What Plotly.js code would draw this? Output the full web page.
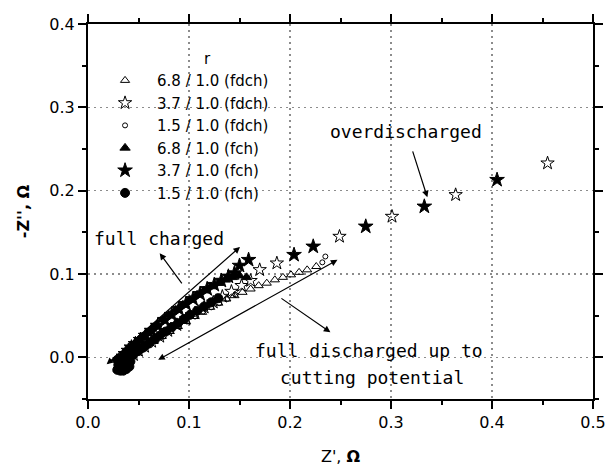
<!DOCTYPE html>
<html>
<head>
<meta charset="utf-8">
<script src="https://cdn.plot.ly/plotly-3.0.1.min.js"></script>
<style>
  html, body { margin: 0; padding: 0; background: #fff; }
  #chart { width: 612px; height: 466px; }
</style>
</head>
<body>
<div id="chart"></div>
<script>
// Nyquist impedance data (Z' vs -Z'', ohm) for three r ratios,
// measured at full discharge (fdch) and full charge (fch).
const seriesNames = [
  "6.8 / 1.0 (fdch)", "3.7 / 1.0 (fdch)", "1.5 / 1.0 (fdch)",
  "6.8 / 1.0 (fch)", "3.7 / 1.0 (fch)", "1.5 / 1.0 (fch)"
];

// 6.8 / 1.0 (fdch) - open triangles
const tri68FdchX = [0.036,0.038,0.040,0.043,0.047,0.052,0.058,0.065,0.073,0.081,0.089,0.097,0.105,0.113,0.121,0.129,0.137,0.145,0.153,0.161,0.169,0.177,0.185,0.193,0.201,0.209,0.217,0.226];
const tri68FdchY = [-0.008,-0.005,-0.002,0.001,0.005,0.009,0.014,0.019,0.025,0.031,0.037,0.043,0.049,0.054,0.060,0.065,0.070,0.074,0.078,0.082,0.086,0.089,0.093,0.096,0.099,0.102,0.105,0.109];

// 3.7 / 1.0 (fdch) - open stars
const star37FdchX = [0.035,0.038,0.041,0.045,0.050,0.056,0.063,0.071,0.079,0.088,0.097,0.106,0.115,0.124,0.133,0.142,0.152,0.161,0.170,0.187,0.249,0.301,0.364,0.455];
const star37FdchY = [-0.009,-0.005,-0.001,0.003,0.008,0.013,0.019,0.025,0.032,0.039,0.046,0.053,0.060,0.066,0.073,0.079,0.086,0.092,0.105,0.113,0.145,0.169,0.195,0.233];

// 1.5 / 1.0 (fdch) - small open circles
const circ15FdchX = [0.034,0.036,0.039,0.042,0.046,0.051,0.056,0.062,0.068,0.075,0.082,0.090,0.098,0.106,0.114,0.122,0.130,0.138,0.146,0.232,0.235];
const circ15FdchY = [-0.011,-0.008,-0.005,-0.002,0.002,0.006,0.010,0.015,0.020,0.025,0.031,0.037,0.043,0.049,0.055,0.060,0.065,0.070,0.075,0.114,0.121];

// 6.8 / 1.0 (fch) - filled triangles
const tri68FchX = [0.030,0.031,0.032,0.033,0.034,0.035,0.036,0.038,0.040,0.042,0.044,0.047,0.050,0.054,0.058,0.063,0.068,0.074,0.080,0.087,0.094,0.101,0.108,0.115,0.122,0.129,0.136,0.143,0.150,0.157];
const tri68FchY = [-0.014,-0.011,-0.008,-0.005,-0.001,0.002,0.005,0.007,0.009,0.012,0.014,0.018,0.021,0.025,0.029,0.034,0.039,0.045,0.051,0.057,0.063,0.069,0.075,0.080,0.085,0.089,0.093,0.096,0.098,0.096];

// 3.7 / 1.0 (fch) - filled stars
const star37FchX = [0.031,0.033,0.035,0.037,0.040,0.043,0.047,0.052,0.057,0.063,0.069,0.076,0.083,0.090,0.097,0.104,0.111,0.118,0.125,0.132,0.139,0.145,0.150,0.159,0.204,0.223,0.275,0.333,0.405];
const star37FchY = [-0.006,-0.003,0.001,0.004,0.008,0.012,0.016,0.021,0.026,0.032,0.038,0.045,0.051,0.058,0.064,0.070,0.076,0.082,0.087,0.092,0.097,0.101,0.110,0.117,0.123,0.133,0.157,0.181,0.213];

// 1.5 / 1.0 (fch) - filled circles
const circ15FchX = [0.029,0.032,0.035,0.038,0.041,0.030,0.033,0.036,0.039,0.042,0.029,0.032,0.035,0.038,0.041,0.044,0.047,0.050,0.053,0.057,0.061,0.066,0.071,0.077,0.083,0.089,0.095,0.101,0.108,0.115,0.122,0.129];
const circ15FchY = [-0.015,-0.016,-0.016,-0.014,-0.011,-0.009,-0.010,-0.009,-0.007,-0.005,-0.003,-0.003,-0.002,0.000,0.002,0.004,0.006,0.008,0.011,0.014,0.018,0.022,0.026,0.031,0.036,0.041,0.046,0.051,0.056,0.061,0.066,0.071];

const xTickFormat = ".1f";
const yTickFormat = ".1f";

const BASE_FONT = "DejaVu Sans, Arial, sans-serif";
const NOTE_FONT = "DejaVu Sans Mono, monospace";
// leading non-breaking spaces push the centred legend heading over the labels
const TITLE_PAD = "\u00a0".repeat(10);

function series(name, xs, ys, symbol, size, group) {
  return {
    type: "scatter", mode: "markers", name: name, x: xs, y: ys,
    legendgroup: group,
    marker: { symbol: symbol, size: size, color: "#000",
              line: { color: "#000", width: 1 } },
    cliponaxis: false
  };
}

const traces = [
  series(seriesNames[0], tri68FdchX, tri68FdchY, "triangle-up-open", 8, "g1"),
  series(seriesNames[1], star37FdchX, star37FdchY, "star-open", 10, "g2"),
  series(seriesNames[2], circ15FdchX, circ15FdchY, "circle-open", 5, "g3"),
  series(seriesNames[3], tri68FchX, tri68FchY, "triangle-up", 9, "g4"),
  series(seriesNames[4], star37FchX, star37FchY, "star", 11, "g5"),
  series(seriesNames[5], circ15FchX, circ15FchY, "circle", 9, "g6")
];

const axisCommon = {
  showline: true, linecolor: "#000", linewidth: 2, mirror: "ticks",
  ticks: "outside", ticklen: 8, tickwidth: 2, tickcolor: "#000",
  showgrid: true, gridcolor: "#8c8c8c", gridwidth: 1.5, griddash: "2px,4px",
  zeroline: false,
  tickfont: { family: BASE_FONT, size: 16, color: "#000" },
  minor: { ticks: "outside", ticklen: 4, tickwidth: 2, tickcolor: "#000", showgrid: false }
};

function note(text, x, y, anchor) {
  return { text: text, x: x, y: y, xref: "x", yref: "y", showarrow: false,
           xanchor: anchor || "center", yanchor: "middle",
           font: { family: NOTE_FONT, size: 18, color: "#000" } };
}
function arrow(x0, y0, x1, y1, both) {
  return { x: x1, y: y1, ax: x0, ay: y0, xref: "x", yref: "y", axref: "x", ayref: "y",
           text: "", showarrow: true, arrowhead: 2, startarrowhead: 2, arrowsize: 1.1,
           startarrowsize: 1.1, arrowwidth: 1.2, arrowcolor: "#000",
           arrowside: both ? "end+start" : "end" };
}

const layout = {
  width: 612, height: 466,
  margin: { l: 88, r: 19, t: 24, b: 67 },
  paper_bgcolor: "#fff", plot_bgcolor: "#fff",
  font: { family: BASE_FONT, color: "#000" },
  xaxis: Object.assign({}, axisCommon, {
    range: [0, 0.5], dtick: 0.1, tick0: 0, tickformat: xTickFormat,
    minor: Object.assign({}, axisCommon.minor, { dtick: 0.05 }),
    title: { text: "Z', <b>Ω</b>", font: { family: BASE_FONT, size: 16 }, standoff: 22 }
  }),
  yaxis: Object.assign({}, axisCommon, {
    range: [-0.05, 0.4], dtick: 0.1, tick0: 0, tickformat: yTickFormat,
    minor: Object.assign({}, axisCommon.minor, { dtick: 0.05 }),
    title: { text: "<b>-Z'', Ω</b>", font: { family: BASE_FONT, size: 16 }, standoff: 16 }
  }),
  showlegend: true,
  legend: {
    x: 0.01, y: 0.945, xanchor: "left", yanchor: "top",
    bgcolor: "rgba(0,0,0,0)", borderwidth: 0,
    font: { family: BASE_FONT, size: 15, color: "#000" },
    tracegroupgap: 0, itemwidth: 54,
    title: { text: TITLE_PAD + "r", side: "top center", font: { family: BASE_FONT, size: 15 } }
  },
  annotations: [
    note("full charged", 0.004, 0.143, "left"),
    note("overdischarged", 0.315, 0.271),
    note("full discharged up to", 0.278, 0.008),
    note("cutting potential", 0.281, -0.024),
    arrow(0.017, -0.010, 0.1505, 0.1325, true),
    arrow(0.094, 0.087, 0.071, 0.125, false),
    arrow(0.068, -0.004, 0.247, 0.117, true),
    arrow(0.190, 0.072, 0.240, 0.030, false),
    arrow(0.321, 0.249, 0.336, 0.192, false)
  ]
};

Plotly.newPlot("chart", traces, layout, { displayModeBar: false, staticPlot: true });
</script>
</body>
</html>
